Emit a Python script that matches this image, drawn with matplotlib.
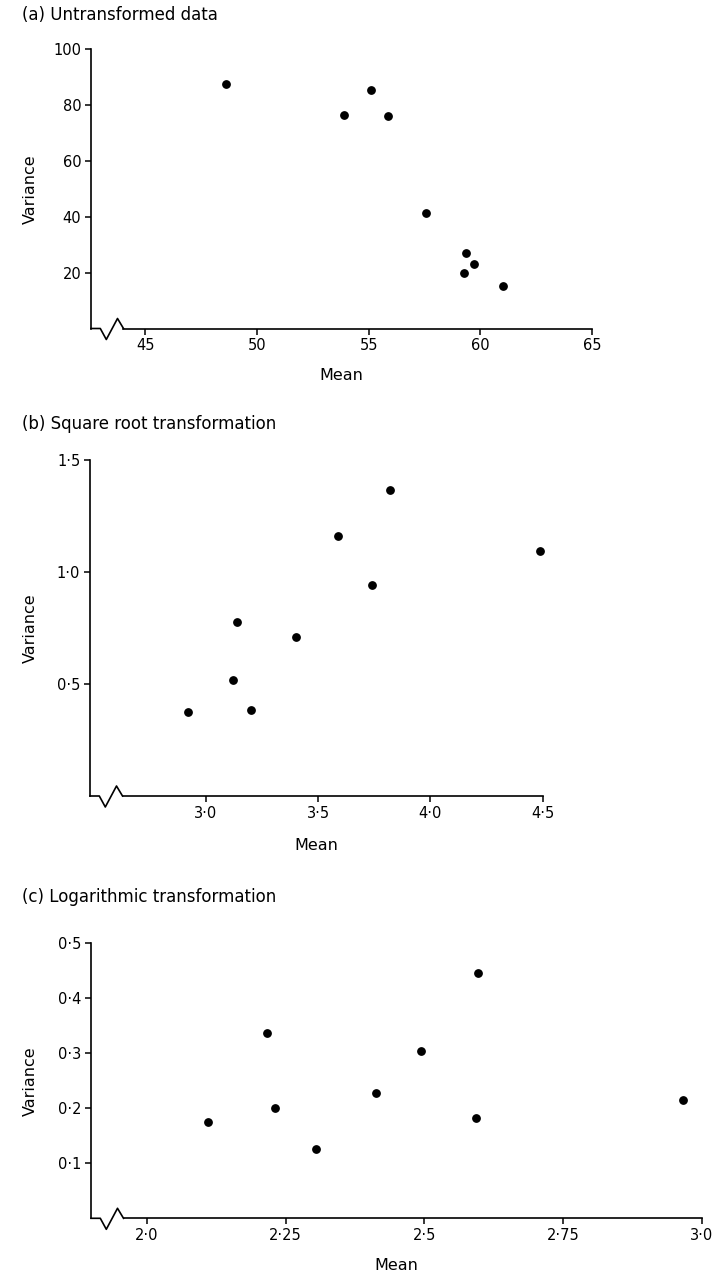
import matplotlib
matplotlib.use("Agg")
import matplotlib.pyplot as plt
from matplotlib.transforms import ScaledTranslation

# ---------------------------------------------------------------------------
# DATA
# ---------------------------------------------------------------------------
A_MEAN = [48.6, 53.9, 55.1, 55.85, 57.55, 59.35, 59.7, 59.25, 61.0]
A_VAR = [87.4, 76.4, 85.3, 76.2, 41.3, 26.9, 23.1, 20.0, 15.1]
A_XTICKS = [45, 50, 55, 60, 65]
A_XLABELS = ["45", "50", "55", "60", "65"]
A_YTICKS = [20, 40, 60, 80, 100]
A_YLABELS = ["20", "40", "60", "80", "100"]

B_MEAN = [2.92, 3.12, 3.14, 3.20, 3.40, 3.59, 3.74, 3.82, 4.49]
B_VAR = [0.375, 0.52, 0.775, 0.386, 0.712, 1.16, 0.94, 1.368, 1.095]
B_XTICKS = [3.0, 3.5, 4.0, 4.5]
B_XLABELS = ["3·0", "3·5", "4·0", "4·5"]
B_YTICKS = [0.5, 1.0, 1.5]
B_YLABELS = ["0·5", "1·0", "1·5"]

C_MEAN = [2.11, 2.217, 2.231, 2.304, 2.413, 2.494, 2.596, 2.593, 2.966]
C_VAR = [0.175, 0.337, 0.200, 0.126, 0.228, 0.305, 0.446, 0.183, 0.215]
C_XTICKS = [2.0, 2.25, 2.5, 2.75, 3.0]
C_XLABELS = ["2·0", "2·25", "2·5", "2·75", "3·0"]
C_YTICKS = [0.1, 0.2, 0.3, 0.4, 0.5]
C_YLABELS = ["0·1", "0·2", "0·3", "0·4", "0·5"]

TITLES = ["(a) Untransformed data",
          "(b) Square root transformation",
          "(c) Logarithmic transformation"]

# ---------------------------------------------------------------------------
# LAYOUT  (pixels in a 728 x 1277 canvas)
# ---------------------------------------------------------------------------
W, H, DPI = 728, 1277, 100

PANELS = [
    dict(mean=A_MEAN, var=A_VAR, xt=A_XTICKS, xl=A_XLABELS, yt=A_YTICKS,
         yl=A_YLABELS, xlim=(42.57, 65), ylim=(0, 100),
         box=(91, 592, 49, 328.5), title_y=15, mean_y=376),
    dict(mean=B_MEAN, var=B_VAR, xt=B_XTICKS, xl=B_XLABELS, yt=B_YTICKS,
         yl=B_YLABELS, xlim=(2.485, 4.5), ylim=(0, 1.5),
         box=(90, 542.7, 460, 796), title_y=424, mean_y=846),
    dict(mean=C_MEAN, var=C_VAR, xt=C_XTICKS, xl=C_XLABELS, yt=C_YTICKS,
         yl=C_YLABELS, xlim=(1.899, 3.0), ylim=(0, 0.5),
         box=(91, 701.7, 943.3, 1218.3), title_y=897, mean_y=1266),
]

# zig-zag axis break, offsets in px from the lower-left corner
BREAK_X = [0, 9.3, 15.3, 26.5, 32.5]
BREAK_Y = [0, 0, -11, 10, 0]

plt.rcParams["font.family"] = ["DejaVu Sans"]
fig = plt.figure(figsize=(W / DPI, H / DPI), dpi=DPI)

for i, p in enumerate(PANELS):
    left, right, top, bottom = p["box"]
    ax = fig.add_axes([left / W, 1 - bottom / H, (right - left) / W, (bottom - top) / H])

    ax.scatter(p["mean"], p["var"], s=28, color="black", zorder=3, clip_on=False)

    ax.set_xlim(*p["xlim"])
    ax.set_ylim(*p["ylim"])
    ax.set_xticks(p["xt"])
    ax.set_xticklabels(p["xl"])
    ax.set_yticks(p["yt"])
    ax.set_yticklabels(p["yl"])
    ax.tick_params(direction="out", length=4, width=1.1, labelsize=10.5, pad=3)

    for side in ("top", "right"):
        ax.spines[side].set_visible(False)
    for side in ("left", "bottom"):
        ax.spines[side].set_linewidth(1.2)

    # bottom spine starts after the break
    x0, x1 = p["xlim"]
    ax_w = right - left
    ax.spines["bottom"].set_bounds(x0 + BREAK_X[-1] / ax_w * (x1 - x0), x1)

    tr = fig.dpi_scale_trans + ScaledTranslation(0, 0, ax.transAxes)
    ax.plot([v / DPI for v in BREAK_X], [v / DPI for v in BREAK_Y],
            color="black", lw=1.2, transform=tr, clip_on=False)

    ax_h = bottom - top
    ax.set_ylabel("Variance", fontsize=11.5)
    ax.yaxis.set_label_coords((30 - left) / ax_w, 0.5)
    ax.set_xlabel("Mean", fontsize=11.5)
    ax.xaxis.set_label_coords(0.5, (bottom - p["mean_y"]) / ax_h)
    ax.xaxis.label.set_va("center")
    ax.yaxis.label.set_va("center")

    fig.text(22 / W, 1 - p["title_y"] / H, TITLES[i], fontsize=12,
             ha="left", va="center")

fig.savefig("out.png", dpi=DPI)
